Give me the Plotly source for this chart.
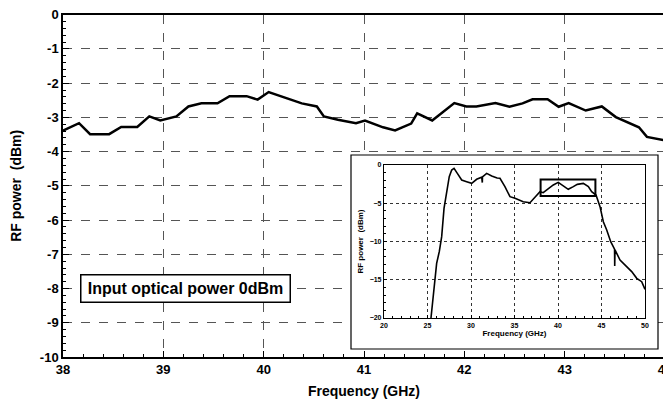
import plotly.graph_objects as go

# Main (zoomed) trace: frequency (GHz) vs RF power (dBm)
main_freq = [38.0, 38.16, 38.27, 38.46, 38.58, 38.74, 38.86, 38.97, 39.13, 39.25, 39.38, 39.54,
             39.66, 39.83, 39.94, 40.05, 40.38, 40.53, 40.6, 40.74, 40.92, 41.01, 41.19, 41.31,
             41.47, 41.53, 41.68, 41.9, 42.02, 42.12, 42.31, 42.45, 42.58, 42.68, 42.83, 42.94,
             43.04, 43.21, 43.37, 43.51, 43.74, 43.82, 44.0]
main_power = [-3.39, -3.17, -3.49, -3.49, -3.28, -3.28, -2.97, -3.09, -2.97, -2.68, -2.59, -2.59,
              -2.38, -2.38, -2.48, -2.26, -2.59, -2.68, -2.97, -3.07, -3.17, -3.09, -3.29, -3.38,
              -3.18, -2.88, -3.09, -2.58, -2.68, -2.68, -2.58, -2.69, -2.59, -2.47, -2.47, -2.69,
              -2.58, -2.80, -2.68, -2.99, -3.29, -3.57, -3.67]

# Inset (full-band) trace
inset_freq = [25.40, 25.75, 26.05, 26.36, 26.63, 26.9, 27.2, 27.5, 27.78, 28.05, 28.43, 28.93,
              29.5, 30.08, 30.65, 31.23, 31.3, 31.32, 31.8, 32.38, 33.0, 33.33, 33.9, 34.48,
              35.06, 35.63, 36.0, 36.78, 37.36, 37.93, 38.3, 38.89, 39.46, 40.03, 40.42, 41.18,
              41.76, 42.22, 42.91, 43.49, 43.87, 44.37, 44.83, 45.21, 45.6, 46.06, 46.5, 46.52,
              46.55, 47.13, 47.9, 48.47, 49.05, 49.62, 50.0]
inset_power = [-20.0, -16.3, -12.85, -11.3, -9.37, -5.67, -3.27, -1.53, -0.65, -0.44, -1.09, -1.96,
               -2.18, -2.4, -1.87, -1.6, -2.3, -1.55, -1.09, -1.44, -1.7, -1.74, -2.83, -4.14,
               -4.36, -4.58, -4.8, -4.93, -4.14, -3.49, -3.62, -3.05, -2.61, -2.27, -2.61, -3.18,
               -2.83, -2.53, -2.4, -2.83, -3.49, -3.92, -5.45, -7.41, -8.5, -10.03, -11.0, -13.2,
               -11.1, -12.42, -13.29, -13.94, -14.81, -15.25, -16.25]

# Zoom window marked on the inset
zoom_x = [38.0, 44.3]
zoom_y = [-4.05, -1.9]

main_xticks = [38, 39, 40, 41, 42, 43, 44]
main_yticks = [0, -1, -2, -3, -4, -5, -6, -7, -8, -9, -10]
inset_xticks = [20, 25, 30, 35, 40, 45, 50]
inset_yticks = [0, -5, -10, -15, -20]

FONT = "Arial, Liberation Sans, sans-serif"

fig = go.Figure()
fig.add_trace(go.Scatter(x=main_freq, y=main_power, mode="lines",
                         line=dict(color="black", width=2.5), xaxis="x", yaxis="y",
                         showlegend=False, hoverinfo="skip"))
fig.add_trace(go.Scatter(x=inset_freq, y=inset_power, mode="lines",
                         line=dict(color="black", width=1.6), xaxis="x2", yaxis="y2",
                         showlegend=False, hoverinfo="skip"))

# The page body adds an 8px margin, so the figure is smaller and offset
OX, OY = 8, 8
W, H = 671 - OX, 408 - 2 * OY
def px(v):
    return (v - OX) / W
def py(v):
    return 1 - (v - OY) / H

# screen pixel -> main data coords (for the inset frame)
def mx(p):
    return 38 + (p - 63) * 6 / (665 - 63)
def my(p):
    return -(p - 14.7) * 10 / (357 - 14.7)

fig.update_layout(
    width=W, height=H,
    margin=dict(l=0, r=0, t=0, b=0, autoexpand=False),
    paper_bgcolor="white", plot_bgcolor="white",
    font=dict(family=FONT, color="black"),
    xaxis=dict(domain=[px(63), px(665)], range=[38, 44], tickvals=main_xticks,
               ticktext=[str(v) for v in main_xticks], automargin=False,
               ticklabeloverflow="allow",
               showgrid=True, gridcolor="#555555", griddash="dash", gridwidth=1,
               showline=True, linecolor="black", linewidth=1.5, mirror=True,
               ticks="inside", ticklen=6, tickcolor="black", tickwidth=1.2,
               minor=dict(dtick=0.2, ticks="inside", ticklen=3, tickcolor="black", showgrid=False),
               tickfont=dict(size=13, weight="bold", color="black"), zeroline=False,
               title=dict(text="Frequency (GHz)", font=dict(size=14, weight="bold"), standoff=10)),
    yaxis=dict(domain=[py(357), py(14.7)], range=[-10, 0], tickvals=main_yticks,
               ticktext=[str(v) for v in main_yticks], automargin=False,
               ticklabeloverflow="allow",
               showgrid=True, gridcolor="#555555", griddash="dash", gridwidth=1,
               showline=True, linecolor="black", linewidth=1.5, mirror=True,
               ticks="inside", ticklen=6, tickcolor="black", tickwidth=1.2,
               minor=dict(dtick=0.2, ticks="inside", ticklen=3, tickcolor="black", showgrid=False),
               tickfont=dict(size=13, weight="bold", color="black"), zeroline=False,
               title=dict(text="RF power  (dBm)", font=dict(size=14, weight="bold"), standoff=17)),
    xaxis2=dict(domain=[px(384), px(645)], range=[20, 50], anchor="y2", tickvals=inset_xticks,
                automargin=False,
                showgrid=True, gridcolor="#333333", griddash="dot", gridwidth=1,
                showline=True, linecolor="black", linewidth=1.2, mirror=True,
                ticks="inside", ticklen=3, tickcolor="black",
                minor=dict(dtick=1, ticks="inside", ticklen=2, tickcolor="black", showgrid=False),
                tickfont=dict(size=7, weight="bold", color="black"), zeroline=False,
                title=dict(text="Frequency (GHz)", font=dict(size=8, weight="bold"), standoff=2)),
    yaxis2=dict(domain=[py(318), py(165)], range=[-20, 0], anchor="x2", tickvals=inset_yticks,
                automargin=False,
                showgrid=True, gridcolor="#333333", griddash="dot", gridwidth=1,
                showline=True, linecolor="black", linewidth=1.2, mirror=True,
                ticks="inside", ticklen=3, tickcolor="black",
                minor=dict(dtick=1, ticks="inside", ticklen=2, tickcolor="black", showgrid=False),
                tickfont=dict(size=7, weight="bold", color="black"), zeroline=False,
                title=dict(text="RF power  (dBm)", font=dict(size=8, weight="bold"), standoff=4)),
    shapes=[
        dict(type="rect", xref="x", yref="y",
             x0=mx(351), x1=mx(658), y0=my(349), y1=my(155),
             fillcolor="white", line=dict(color="black", width=1.2), layer="between"),
        dict(type="rect", xref="x2", yref="y2", x0=zoom_x[0], x1=zoom_x[1],
             y0=zoom_y[0], y1=zoom_y[1], line=dict(color="black", width=2), layer="above"),
    ],
    annotations=[
        dict(text="<b>Input optical power 0dBm</b>", x=mx(185), y=my(288.5), xref="x", yref="y",
             showarrow=False, font=dict(size=16, family=FONT), bgcolor="white",
             width=202, height=20, bordercolor="black", borderwidth=1.5, borderpad=3),
    ],
)

fig.write_html("out.html")
